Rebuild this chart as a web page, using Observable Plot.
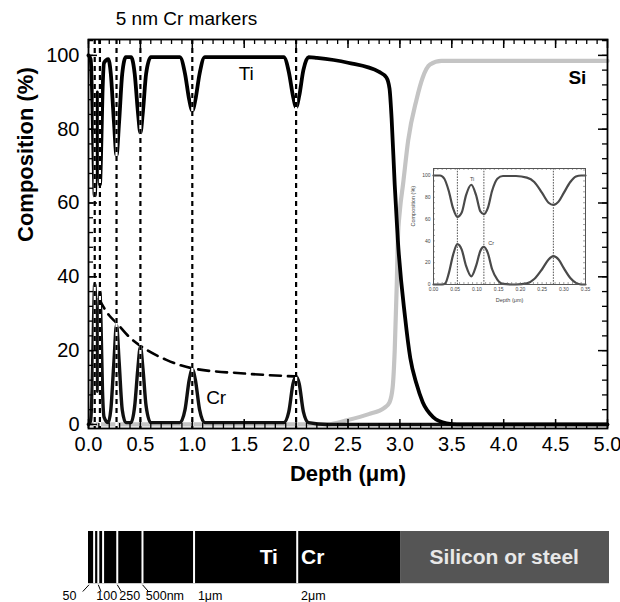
<!DOCTYPE html>
<html><head><meta charset="utf-8">
<script src="https://cdn.jsdelivr.net/npm/d3@7"></script>
<script src="https://cdn.jsdelivr.net/npm/@observablehq/plot@0.6"></script>
<style>
body{margin:0;background:#fff;font-family:"Liberation Sans",Arial,sans-serif;}
#wrap{position:relative;width:620px;height:602px;overflow:hidden;}
#main{position:absolute;left:0;top:0;}
#inset{position:absolute;left:405px;top:161px;}
#bar{position:absolute;left:0;top:500px;}
</style></head><body>
<div id="wrap"><div id="main"></div><div id="inset"></div><div id="bar"></div></div>
<script>
// ---------- data: main profile (depth in µm, composition in %) ----------
const tiDepth = [0,0.02,0.035,0.05,0.06,0.07,0.085,0.1,0.11,0.12,0.135,0.15,0.19,0.215,0.245,0.27,0.295,0.325,0.36,0.41,0.445,0.475,0.5,0.525,0.555,0.6,0.88,0.93,0.97,1.0,1.03,1.07,1.12,1.88,1.93,1.97,2.0,2.03,2.07,2.12,2.2,2.5,2.8,2.87,2.9,2.92,2.95,2.98,3.05,3.1,3.16,3.22,3.32,3.45,3.55,5.0];
const tiValue = [100,99,90,70,62,68,90,72,65,72,90,98,99,95,82,73,82,95,99.5,99.5,95,85,79,85,95,99.5,99.5,95,88,85,88,95,99.5,99.5,95.5,89,86,89,96,99.5,99.3,98,95.5,94,91,83,65,50,29,18,11,6,2,0.3,0,0];

const crDepth = [0,0.02,0.035,0.05,0.06,0.07,0.085,0.1,0.11,0.12,0.135,0.15,0.19,0.215,0.245,0.27,0.295,0.325,0.36,0.41,0.445,0.475,0.5,0.525,0.555,0.6,0.88,0.93,0.97,1.0,1.03,1.07,1.12,1.88,1.93,1.97,2.0,2.03,2.07,2.12,2.3,5.0];
const crValue = [0,1,10,30,38,32,9,28,36,28,9,2,0.5,4,17,27,17,4,0.5,0.5,5,15,21,15,5,0.5,0.5,4,12,15,12,4,0.5,0.5,3.5,11,13,11,3.5,0.5,0,0];

const siDepth = [0,2.3,2.5,2.7,2.85,2.9,2.93,2.95,2.97,2.98,3.0,3.03,3.08,3.16,3.22,3.29,3.4,5.0];
const siValue = [0,0,1.2,2.8,4.5,6,10,20,38,50,58,65,77,88,94,97.5,98.5,98.5];

const envDepth = [0.1,0.2,0.27,0.4,0.5,0.75,1.0,1.5,2.0];
const envValue = [34,29.5,27.5,23.5,21.3,17.5,15.2,13.8,13];

const markerDepths = [0.06,0.11,0.27,0.5,1.0,2.0];

const xMajor = [0,0.5,1,1.5,2,2.5,3,3.5,4,4.5,5];
const xMinor = d3.range(0,50).map(i => i/10);
const yMajor = [0,20,40,60,80,100];
const yMinor = d3.range(0,27).map(i => i*4);

const curveLabels = [
  {x:1.52, y:95.1, text:"Ti", weight:"normal"},
  {x:1.23, y:7.3,  text:"Cr", weight:"normal"},
  {x:4.71, y:94,   text:"Si", weight:"bold"}
];

// ---------- data: inset (0–0.35 µm) ----------
const inTiDepth = [0,0.015,0.025,0.035,0.045,0.055,0.065,0.075,0.087,0.098,0.108,0.116,0.125,0.135,0.147,0.16,0.19,0.215,0.232,0.25,0.265,0.276,0.288,0.3,0.315,0.328,0.34,0.35];
const inTiValue = [100,100,97,86,70,62,66,82,91.5,82,67,64.5,70,86,97,99.5,99.5,98,94,84,75,73,76,84,94,99,100,100];
const inCrDepth = [0,0.02,0.027,0.035,0.045,0.055,0.065,0.075,0.087,0.098,0.108,0.116,0.125,0.135,0.147,0.16,0.19,0.215,0.232,0.25,0.265,0.276,0.288,0.3,0.315,0.328,0.34,0.35];
const inCrValue = [0,0,1,10,27,37,32,17,7.5,17,31,34.5,29,14,4.5,0.5,0,1,5,14,23,26,23,15,6,1.5,0,0];
const inMarkers = [0.055,0.116,0.276];
const inXTicks = [0,0.05,0.1,0.15,0.2,0.25,0.3,0.35];
const inXMinor = d3.range(0,36).map(i => i/100);
const inYTicks = [0,20,40,60,80,100];
const inYMinor = d3.range(0,22).map(i => i*5);

// ---------- data: layer schematic ----------
const coating = [{from:0, to:3}];
const substrate = [{from:3, to:5}];
const barMarkers = [0.054,0.094,0.14,0.276,0.518,1.013,2.003];
const barLabels = [
  {label:"50",    at:0.005, lx:-0.055, tx:-0.25, leader:true},
  {label:"100",   at:0.094, lx:0.12,   tx:0.075, leader:true},
  {label:"250",   at:0.276, lx:0.315,  tx:0.295, leader:true},
  {label:"500nm", at:0.518, lx:0.575,  tx:0.55,  leader:true},
  {label:"1μm",   at:1.05,  lx:1.05,   tx:1.05,  leader:false},
  {label:"2μm",   at:2.04,  lx:2.04,   tx:2.04,  leader:false}
];
const barText = [
  {x:1.73, text:"Ti", anchor:"middle", fill:"white"},
  {x:2.04, text:"Cr", anchor:"start", fill:"white"},
  {x:3.99, text:"Silicon or steel", anchor:"middle", fill:"#e8e8e8"}
];

const FONT = "Liberation Sans, Arial, Helvetica, sans-serif";

// ---------- main chart ----------
const MW = 620, MH = 500, ML = 88, MR = 13, MT = 39, MB = 72;
const FW = MW - ML - MR, FH = MH - MT - MB;
const main = Plot.plot({
  width: MW, height: MH,
  marginLeft: ML, marginRight: MR, marginTop: MT, marginBottom: MB,
  style: {fontFamily: FONT, fontSize: "20px", color: "#000", background: "transparent", overflow: "visible"},
  x: {domain: [0, 5]},
  y: {domain: [-1.1, 104.3]},
  marks: [
    Plot.line(siDepth, {x: siDepth, y: siValue, stroke: "#c4c4c4", strokeWidth: 4.2, curve: "monotone-x"}),
    Plot.line(crDepth, {x: crDepth, y: crValue, stroke: "#111", strokeWidth: 3.4, curve: "monotone-x"}),
    Plot.line(tiDepth, {x: tiDepth, y: tiValue, stroke: "#000", strokeWidth: 3.8, curve: "monotone-x"}),
    Plot.line(envDepth, {x: envDepth, y: envValue, stroke: "#000", strokeWidth: 2.6, strokeDasharray: "11,7", curve: "monotone-x"}),
    Plot.ruleX(markerDepths, {stroke: "white", strokeWidth: 2.2}),
    Plot.ruleX(markerDepths, {stroke: "#000", strokeWidth: 2.2, strokeDasharray: "5,4"}),
    // inward ticks
    Plot.ruleX(xMinor, {insetTop: FH - 5, stroke: "#000", strokeWidth: 1.3}),
    Plot.ruleX(xMajor, {insetTop: FH - 9, stroke: "#000", strokeWidth: 1.5}),
    Plot.ruleX(xMinor, {insetBottom: FH - 5, stroke: "#000", strokeWidth: 1.3}),
    Plot.ruleX(xMajor, {insetBottom: FH - 9, stroke: "#000", strokeWidth: 1.5}),
    Plot.ruleY(yMinor, {insetRight: FW - 5, stroke: "#000", strokeWidth: 1.3}),
    Plot.ruleY(yMajor, {insetRight: FW - 9, stroke: "#000", strokeWidth: 1.5}),
    Plot.ruleY(yMinor, {insetLeft: FW - 5, stroke: "#000", strokeWidth: 1.3}),
    Plot.ruleY(yMajor, {insetLeft: FW - 9, stroke: "#000", strokeWidth: 1.5}),
    Plot.frame({stroke: "#000", strokeWidth: 1.8}),
    Plot.axisX({ticks: xMajor, tickSize: 0, tickPadding: 8, tickFormat: d3.format(".1f"), label: null, fontSize: 20}),
    Plot.axisY({ticks: yMajor, tickSize: 0, tickPadding: 9, label: null, fontSize: 20}),
    Plot.text(curveLabels.filter(d => d.weight === "normal"), {x: "x", y: "y", text: "text", fontSize: 19}),
    Plot.text(curveLabels.filter(d => d.weight === "bold"), {x: "x", y: "y", text: "text", fontSize: 19, fontWeight: "bold"}),
    Plot.text(["5 nm Cr markers"], {frameAnchor: "top-left", dx: 98, dy: -21, lineAnchor: "middle", textAnchor: "middle", fontSize: 19}),
    Plot.text(["Composition (%)"], {frameAnchor: "left", rotate: -90, dx: -63, dy: 8, fontSize: 22, fontWeight: "bold"}),
    Plot.text(["Depth (μm)"], {frameAnchor: "bottom", dy: 52, fontSize: 22, fontWeight: "bold"})
  ]
});
document.getElementById("main").appendChild(main);

// ---------- inset ----------
const IW = 186, IH = 147, IL = 28, IR = 6, IT = 7, IB = 24;
const IFW = IW - IL - IR, IFH = IH - IT - IB;
const inset = Plot.plot({
  width: IW, height: IH,
  marginLeft: IL, marginRight: IR, marginTop: IT, marginBottom: IB,
  style: {fontFamily: FONT, fontSize: "5px", color: "#444", background: "transparent", overflow: "visible"},
  x: {domain: [0, 0.35]},
  y: {domain: [0, 106.4]},
  marks: [
    Plot.ruleX(inMarkers, {stroke: "#444", strokeWidth: 0.9, strokeDasharray: "1.6,1.2"}),
    Plot.line(inCrDepth, {x: inCrDepth, y: inCrValue, stroke: "#4a4a4a", strokeWidth: 2.2, curve: "monotone-x"}),
    Plot.line(inTiDepth, {x: inTiDepth, y: inTiValue, stroke: "#4a4a4a", strokeWidth: 2.2, curve: "monotone-x"}),
    Plot.ruleX(inXMinor, {insetTop: IFH - 2, stroke: "#666", strokeWidth: 0.6}),
    Plot.ruleX(inXMinor, {insetBottom: IFH - 2, stroke: "#666", strokeWidth: 0.6}),
    Plot.ruleY(inYMinor, {insetRight: IFW - 2, stroke: "#666", strokeWidth: 0.6}),
    Plot.ruleY(inYMinor, {insetLeft: IFW - 2, stroke: "#666", strokeWidth: 0.6}),
    Plot.frame({stroke: "#555", strokeWidth: 1}),
    Plot.axisX({ticks: inXTicks, tickSize: 0, tickPadding: 3, tickFormat: d3.format(".2f"), label: null, fontSize: 5}),
    Plot.axisY({ticks: inYTicks, tickSize: 0, tickPadding: 3, label: null, fontSize: 5}),
    Plot.text([{x: 0.089, y: 97, t: "Ti"}, {x: 0.133, y: 38, t: "Cr"}], {x: "x", y: "y", text: "t", fontSize: 5.5, fill: "#444"}),
    Plot.text(["Depth (μm)"], {frameAnchor: "bottom", dy: 17, fontSize: 5.5, fill: "#444"}),
    Plot.text(["Composition (%)"], {frameAnchor: "left", rotate: -90, dx: -20, fontSize: 5.5, fill: "#444"})
  ]
});
document.getElementById("inset").appendChild(inset);

// ---------- layer schematic bar ----------
const bar = Plot.plot({
  width: 620, height: 102,
  marginLeft: 88, marginRight: 11, marginTop: 31, marginBottom: 0,
  style: {fontFamily: FONT, color: "#000", background: "transparent", overflow: "visible"},
  x: {domain: [0, 5], axis: null},
  y: {domain: [-0.36, 1], axis: null},
  marks: [
    Plot.rect(coating, {x1: "from", x2: "to", y1: 0, y2: 1, fill: "#000"}),
    Plot.rect(substrate, {x1: "from", x2: "to", y1: 0, y2: 1, fill: "#555"}),
    Plot.ruleX(barMarkers, {y1: 0, y2: 1, stroke: "white", strokeWidth: 2}),
    Plot.link(barLabels.filter(d => d.leader), {x1: "at", x2: "lx", y1: -0.02, y2: -0.15, stroke: "#000", strokeWidth: 1}),
    Plot.text(barLabels, {x: "tx", y: -0.24, text: "label", textAnchor: "start", fontSize: 12.5}),
    Plot.text(barText.filter(d => d.anchor === "middle" && d.fill === "white"), {x: "x", y: 0.5, text: "text", fill: "white", fontSize: 21, fontWeight: "bold", textAnchor: "middle"}),
    Plot.text(barText.filter(d => d.anchor === "start"), {x: "x", y: 0.5, text: "text", fill: "white", fontSize: 21, fontWeight: "bold", textAnchor: "start"}),
    Plot.text(barText.filter(d => d.fill !== "white"), {x: "x", y: 0.5, text: "text", fill: "#e8e8e8", fontSize: 21, fontWeight: "bold", textAnchor: "middle"})
  ]
});
document.getElementById("bar").appendChild(bar);
</script>
</body></html>
